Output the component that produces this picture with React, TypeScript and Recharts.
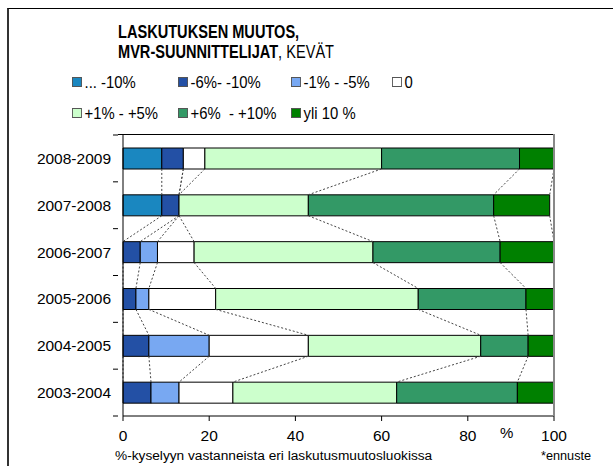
import React from "react";
import { BarChart, Bar, XAxis, YAxis, ReferenceLine } from "recharts";

const CATEGORIES = ["2008-2009", "2007-2008", "2006-2007", "2005-2006", "2004-2005", "2003-2004"];
const SERIES_NAMES = ["... -10%", "-6%- -10%", "-1% - -5%", "0", "+1% - +5%", "+6%  - +10%", "yli 10 %"];
const SERIES_COLORS = ["#1a87c0", "#2350a5", "#78a8f2", "#ffffff", "#ccffcc", "#339966", "#008000"];

// osuudet (%) vuosittain, ylhäältä alas
const DOWN_OVER_10 = [9, 9, 0, 0, 0, 0];
const DOWN_6_10 = [5, 4, 4, 3, 6, 6.5];
const DOWN_1_5 = [0, 0, 4, 3, 14, 6.5];
const ZERO = [5, 0, 8.5, 15.5, 23, 12.5];
const UP_1_5 = [41, 30, 41.5, 47, 40, 38];
const UP_6_10 = [32, 43, 29.5, 25, 11, 28];
const UP_OVER_10 = [8, 13, 12.5, 6.5, 6, 8.5];

const SERIES_VALUES = [DOWN_OVER_10, DOWN_6_10, DOWN_1_5, ZERO, UP_1_5, UP_6_10, UP_OVER_10];
const X_TICKS = [0, 20, 40, 60, 80, 100];

const FONT = "'Liberation Sans', Arial, sans-serif";
const WIDTH = 613;
const HEIGHT = 466;
const PLOT_LEFT = 123;
const PLOT_TOP = 135;
const PLOT_RIGHT = 59;
const PLOT_BOTTOM = 50;
const BAR_SIZE = 21;
const LEGEND_COLS = [72, 178, 291, 392];
const LEGEND_ROWS = [82, 113];

const data = CATEGORIES.map((year, i) => {
  const row: Record<string, number | string> = { year };
  SERIES_VALUES.forEach((vals, k) => {
    row[`s${k}`] = vals[i];
  });
  return row;
});

// kumulatiiviset rajat sarjaviivoja varten
const cumulative = CATEGORIES.map((_, i) => {
  let sum = 0;
  return SERIES_VALUES.map((vals) => (sum += vals[i]));
});

const seriesLines: { x1: number; y1: string; x2: number; y2: string }[] = [];
for (let i = 0; i < CATEGORIES.length - 1; i++) {
  for (let k = 0; k < SERIES_VALUES.length; k++) {
    seriesLines.push({
      x1: cumulative[i][k],
      y1: CATEGORIES[i],
      x2: cumulative[i + 1][k],
      y2: CATEGORIES[i + 1],
    });
  }
}

// viiva palkin alareunasta seuraavan yläreunaan
const SeriesLine = (p: any) => (
  <line
    x1={p.x1}
    y1={p.y1 + BAR_SIZE / 2}
    x2={p.x2}
    y2={p.y2 - BAR_SIZE / 2}
    stroke="#444"
    strokeWidth={1}
    strokeDasharray="2 2"
  />
);

const YTick = (props: any) => {
  const { x, y, payload, index } = props;
  const half = payload && payload.offset ? payload.offset : 23.4;
  const axisX = x + 7;
  return (
    <g>
      <text x={x} y={y} dy="0.35em" textAnchor="end" fontSize={15.5} fill="#000" fontFamily={FONT}>
        {payload.value}
      </text>
      <line x1={axisX - 5} x2={axisX} y1={y - half} y2={y - half} stroke="#000" />
      {index === CATEGORIES.length - 1 && (
        <line x1={axisX - 5} x2={axisX} y1={y + half} y2={y + half} stroke="#000" />
      )}
    </g>
  );
};

export default function App() {
  return (
    <div
      style={{
        position: "absolute",
        left: 0,
        top: 0,
        width: WIDTH,
        height: HEIGHT,
        background: "#fff",
        fontFamily: FONT,
        overflow: "hidden",
      }}
    >
      <div
        style={{
          position: "absolute",
          left: 7,
          top: 8,
          width: 610,
          height: 470,
          borderTop: "1px solid #000",
          borderLeft: "2px solid #333",
        }}
      />
      <div
        style={{
          position: "absolute",
          left: 118,
          top: 22,
          fontSize: 18,
          lineHeight: "20px",
          color: "#000",
          whiteSpace: "nowrap",
          transform: "scaleX(0.81)",
          transformOrigin: "left top",
        }}
      >
        <div style={{ fontWeight: "bold" }}>LASKUTUKSEN MUUTOS,</div>
        <div>
          <span style={{ fontWeight: "bold" }}>MVR-SUUNNITTELIJAT</span>, KEVÄT
        </div>
      </div>
      {SERIES_NAMES.map((name, k) => {
        const col = k < 4 ? k : k - 4;
        const row = k < 4 ? 0 : 1;
        return (
          <div
            key={name}
            style={{
              position: "absolute",
              left: LEGEND_COLS[col],
              top: LEGEND_ROWS[row] - 10,
              height: 20,
              display: "flex",
              alignItems: "center",
              fontSize: 16.5,
              whiteSpace: "pre",
              color: "#000",
              transform: "scaleX(0.9)",
              transformOrigin: "left center",
            }}
          >
            <span
              style={{
                display: "inline-block",
                width: 9,
                height: 8,
                background: SERIES_COLORS[k],
                border: "1px solid #555",
                marginRight: 3,
              }}
            />
            {name}
          </div>
        );
      })}
      <BarChart
        width={WIDTH}
        height={HEIGHT}
        data={data}
        layout="vertical"
        margin={{ top: PLOT_TOP, right: PLOT_RIGHT, bottom: PLOT_BOTTOM - 30, left: 0 }}
        style={{ position: "absolute", left: 0, top: 0 }}
      >
        <XAxis
          type="number"
          domain={[0, 100]}
          ticks={X_TICKS}
          tickSize={5}
          tickMargin={9}
          height={30}
          stroke="#000"
          tick={{ fill: "#000", fontSize: 15.5, fontFamily: FONT }}
        />
        <YAxis
          type="category"
          dataKey="year"
          width={PLOT_LEFT}
          interval={0}
          tickLine={false}
          tickSize={5}
          tickMargin={7}
          stroke="#000"
          tick={<YTick />}
        />
        {SERIES_VALUES.map((_, k) => (
          <Bar
            key={k}
            dataKey={`s${k}`}
            name={SERIES_NAMES[k]}
            stackId="a"
            fill={SERIES_COLORS[k]}
            stroke="#000"
            strokeWidth={1}
            barSize={BAR_SIZE}
            isAnimationActive={false}
          />
        ))}
        {seriesLines.map((s, i) => (
          <ReferenceLine
            key={i}
            segment={[
              { x: s.x1, y: s.y1 },
              { x: s.x2, y: s.y2 },
            ]}
            shape={SeriesLine}
          />
        ))}
      </BarChart>
      {/* kuva-alueen kehys: yläreuna ja oikea reuna */}
      <div
        style={{
          position: "absolute",
          left: PLOT_LEFT - 5,
          top: PLOT_TOP - 1,
          width: WIDTH - PLOT_RIGHT - PLOT_LEFT + 5,
          height: 0,
          borderTop: "1px solid #000",
        }}
      />
      <div
        style={{
          position: "absolute",
          left: WIDTH - PLOT_RIGHT - 1,
          top: PLOT_TOP - 1,
          width: 0,
          height: HEIGHT - PLOT_BOTTOM - PLOT_TOP + 1,
          borderLeft: "2px solid #888",
        }}
      />
      <div style={{ position: "absolute", left: 500, top: 424, fontSize: 15, color: "#000" }}>%</div>
      <div style={{ position: "absolute", left: 115, top: 448, fontSize: 13.7, color: "#000", whiteSpace: "nowrap" }}>
        %-kyselyyn vastanneista eri laskutusmuutosluokissa
      </div>
      <div style={{ position: "absolute", left: 541, top: 449, fontSize: 12.7, color: "#000", whiteSpace: "nowrap" }}>
        *ennuste
      </div>
    </div>
  );
}
